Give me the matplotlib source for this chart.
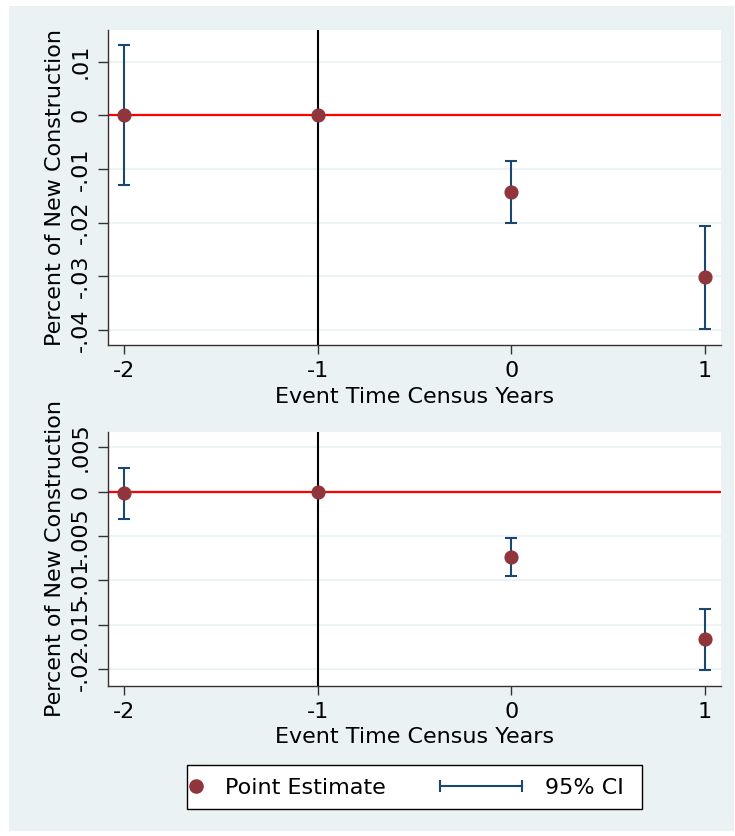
import numpy as np
import matplotlib.pyplot as plt
from matplotlib.lines import Line2D
from matplotlib.patches import Rectangle
from matplotlib.legend_handler import HandlerLine2D

plt.rcParams['font.family'] = ['DejaVu Sans']

# event time (census years)
event_time = [-2, -1, 0, 1]

# panel 1
est_top = [0.0, 0.0, -0.0142, -0.0301]
lo_top = [-0.0129, np.nan, -0.0200, -0.0398]
hi_top = [0.0131, np.nan, -0.0085, -0.0206]
ticks_top = [0.01, 0, -0.01, -0.02, -0.03, -0.04]
labels_top = ['.01', '0', '-.01', '-.02', '-.03', '-.04']

# panel 2
est_bot = [-0.0002, 0.0, -0.00735, -0.0166]
lo_bot = [-0.0031, np.nan, -0.00946, -0.0201]
hi_bot = [0.00267, np.nan, -0.00525, -0.0132]
ticks_bot = [0.005, 0, -0.005, -0.01, -0.015, -0.02]
labels_bot = ['.005', '0', '-.005', '-.01', '-.015', '-.02']

bg = '#EAF2F3'
maroon = '#90353B'
navy = '#1A476F'
fs = 16
W, H = 735, 836

fig = plt.figure(figsize=(7.35, 8.36), dpi=100)
fig.patches.append(Rectangle((9 / W, 1 - 831 / H), 725 / W, 825 / H,
                             transform=fig.transFigure, facecolor=bg,
                             edgecolor='none', zorder=-10))

ax1 = fig.add_axes([0.1469, 0.5873, 0.834, 0.3768])
ax2 = fig.add_axes([0.1469, 0.1798, 0.834, 0.3031])


def panel(ax, est, lo, hi, ticks, labels, ylim):
    ax.set_facecolor('white')
    x = np.array(event_time, dtype=float)
    est = np.array(est)
    lo = np.array(lo)
    hi = np.array(hi)
    ok = ~np.isnan(lo)
    ax.axhline(0, color='red', lw=1.6, zorder=2)
    ax.axvline(-1, color='black', lw=1.5, zorder=2)
    ax.errorbar(x[ok], est[ok], yerr=[est[ok] - lo[ok], hi[ok] - est[ok]],
                fmt='none', ecolor=navy, elinewidth=1.5, capsize=4.6,
                capthick=1.5, zorder=3)
    ax.plot(x, est, 'o', color=maroon, ms=9.2, zorder=4)
    ax.set_xlim(-2.084, 1.084)
    ax.set_ylim(*ylim)
    ax.set_xticks(event_time)
    ax.set_xticklabels([str(v) for v in event_time])
    ax.set_yticks(ticks)
    ax.set_yticklabels(labels, rotation=90, va='center')
    ax.grid(axis='y', color=bg, lw=1.2, zorder=1)
    ax.set_axisbelow(True)
    for s in ['top', 'right']:
        ax.spines[s].set_visible(False)
    for s in ['left', 'bottom']:
        ax.spines[s].set_color('#333333')
        ax.spines[s].set_linewidth(1.0)
    ax.tick_params(axis='y', length=7.5, width=1, color='#333333',
                   labelsize=fs, pad=5)
    ax.tick_params(axis='x', length=6.5, width=1, color='#333333',
                   labelsize=fs, pad=5)
    ax.set_xlabel('Event Time Census Years', fontsize=fs, labelpad=4)
    ax.set_ylabel('Percent of New Construction', fontsize=fs, labelpad=4)


panel(ax1, est_top, lo_top, hi_top, ticks_top, labels_top, (-0.0428, 0.0159))
panel(ax2, est_bot, lo_bot, hi_bot, ticks_bot, labels_bot, (-0.02185, 0.00669))

# legend frame
fig.patches.append(Rectangle((187 / W, 1 - 809 / H), 455 / W, 44 / H,
                             transform=fig.transFigure, facecolor='white',
                             edgecolor='black', lw=1.0, zorder=1))
ly = 1 - 788 / H
px = 72 / 100 / fs  # pixels -> fontsize units
h_pt = Line2D([], [], ls='none', marker='o', color=maroon, ms=9.5)
h_ci = Line2D([], [], color=navy, lw=1.5, marker='|', ms=9, mew=1.5)
leg1 = fig.legend([h_pt], ['Point Estimate'], loc='center left',
                  bbox_to_anchor=(183 / W, ly), fontsize=fs, frameon=False,
                  borderpad=0, borderaxespad=0, handlelength=26 * px,
                  handletextpad=16 * px)
leg2 = fig.legend([h_ci], ['95% CI'], loc='center left',
                  bbox_to_anchor=(433 / W, ly), fontsize=fs, frameon=False,
                  borderpad=0, borderaxespad=0, handlelength=96 * px,
                  handletextpad=16 * px,
                  handler_map={h_ci: HandlerLine2D(numpoints=2)})
leg1.set_zorder(3)
leg2.set_zorder(3)

fig.savefig('out.png', dpi=100)
